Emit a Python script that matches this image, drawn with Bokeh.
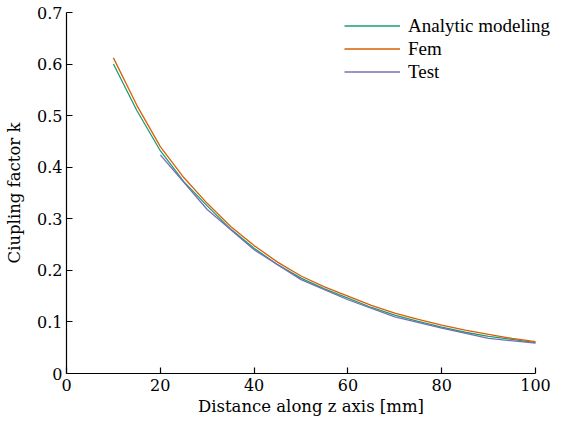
from bokeh.plotting import figure
from bokeh.embed import file_html
from bokeh.resources import INLINE
from bokeh.models import (Range1d, FixedTicker, CustomJSTickFormatter, Legend, LegendItem,
                          LinearAxis)

# Data
x_analytic = [10, 15, 20, 25, 30, 35, 40, 45, 50, 55, 60, 65, 70, 75, 80, 85, 90, 95, 100]
y_analytic = [0.600, 0.510, 0.432, 0.372, 0.325, 0.280, 0.243, 0.211, 0.185, 0.164, 0.146,
              0.128, 0.113, 0.101, 0.090, 0.080, 0.072, 0.066, 0.060]
x_fem = [10, 15, 20, 25, 30, 35, 40, 45, 50, 55, 60, 65, 70, 75, 80, 85, 90, 95, 100]
y_fem = [0.612, 0.520, 0.440, 0.380, 0.330, 0.285, 0.248, 0.216, 0.189, 0.168, 0.150,
         0.132, 0.117, 0.105, 0.094, 0.084, 0.076, 0.068, 0.062]
x_test = [20, 30, 40, 50, 60, 70, 80, 90, 100]
y_test = [0.424, 0.318, 0.240, 0.182, 0.143, 0.110, 0.088, 0.068, 0.059]

x_ticks = [0, 20, 40, 60, 80, 100]
y_ticks = [0, 0.1, 0.2, 0.3, 0.4, 0.5, 0.6, 0.7]

series_names = ["Analytic modeling", "Fem", "Test"]
colors = ["#1b9e77", "#d95f02", "#7570b3"]

LEGEND_FONT = "'Liberation Serif', 'Times New Roman', serif"
AXIS_FONT = "DejaVu Serif"

p = figure(width=555, height=419, output_backend="svg", toolbar_location=None,
           x_range=Range1d(0, 104.26), y_range=Range1d(0, 0.7),
           x_axis_type=None, y_axis_type=None,
           min_border_left=66, min_border_right=0, min_border_top=12, min_border_bottom=46)
p.outline_line_color = None
p.xgrid.visible = False
p.ygrid.visible = False
p.background_fill_color = "white"
p.border_fill_color = "white"

r1 = p.line(x_analytic, y_analytic, line_color=colors[0], line_width=1.3)
r2 = p.line(x_fem, y_fem, line_color=colors[1], line_width=1.3)
r3 = p.line(x_test, y_test, line_color=colors[2], line_width=1.3)

common = dict(
    axis_line_color="black", axis_line_width=1.2,
    major_tick_in=6, major_tick_out=0,
    major_tick_line_color="black", major_tick_line_width=1.2,
    minor_tick_line_color=None,
    major_label_text_font=AXIS_FONT,
    major_label_text_font_size="16px",
    major_label_text_color="black",
    axis_label_text_font=AXIS_FONT,
    axis_label_text_font_size="16.5px",
    axis_label_text_color="black",
    axis_label_text_font_style="normal",
)

xaxis = LinearAxis(axis_label="Distance along z axis [mm]",
                   ticker=FixedTicker(ticks=x_ticks),
                   formatter=CustomJSTickFormatter(code="return tick.toFixed(0);"),
                   bounds=(0, 100), major_label_standoff=5, axis_label_standoff=3,
                   **common)
yaxis = LinearAxis(axis_label="Ciupling factor k",
                   ticker=FixedTicker(ticks=y_ticks),
                   formatter=CustomJSTickFormatter(code="return tick == 0 ? '0' : tick.toFixed(1);"),
                   major_label_standoff=4, axis_label_standoff=10,
                   **common)
p.add_layout(xaxis, "below")
p.add_layout(yaxis, "left")

legend = Legend(items=[LegendItem(label=series_names[0], renderers=[r1]),
                       LegendItem(label=series_names[1], renderers=[r2]),
                       LegendItem(label=series_names[2], renderers=[r3])],
                location=(278, 290), orientation="vertical")
legend.border_line_color = None
legend.background_fill_alpha = 0
legend.padding = 0
legend.margin = 0
legend.spacing = 0
legend.glyph_width = 56
legend.glyph_height = 23
legend.label_height = 23
legend.label_standoff = 8
legend.label_text_font = LEGEND_FONT
legend.label_text_font_size = "19px"
legend.label_text_color = "black"
p.add_layout(legend, "center")

open("out.html", "w").write(file_html(p, INLINE))
